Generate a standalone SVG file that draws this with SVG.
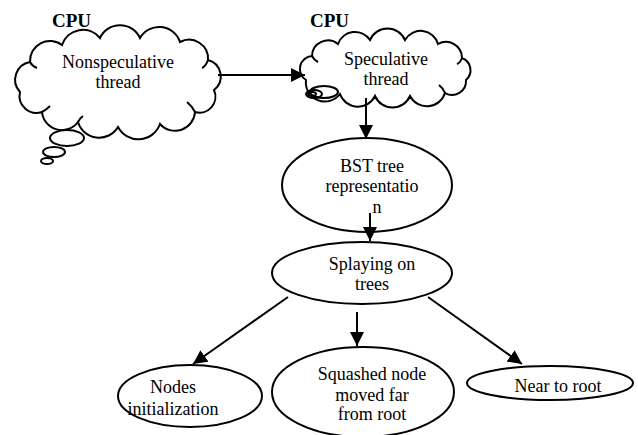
<svg xmlns="http://www.w3.org/2000/svg" width="638" height="435" viewBox="0 0 638 435">
<style>
.sh{fill:#fff;stroke:#000;stroke-width:2}
.ln{fill:none;stroke:#000;stroke-width:2}
text{font-family:'Liberation Serif','Times New Roman',Times,serif;fill:#000}
.t{font-size:18px;text-anchor:middle}
.b{font-size:19px;font-weight:bold}
.c{fill:none;stroke:#000;stroke-width:2}
</style>
<defs>
<marker id="ah" viewBox="0 0 10 10" refX="10" refY="5" markerWidth="7" markerHeight="7" orient="auto" markerUnits="strokeWidth">
<path d="M0,0 L10,5 L0,10 Z" fill="#000"/>
</marker>
</defs>
<rect width="638" height="435" fill="#fff"/>
<g id="cloud1">
<text class="b" x="52" y="27" font-family="Liberation Serif, serif">CPU</text>
<path class="sh" d="M20,92 A18,18 0 0 1 30,62 A20,20 0 0 1 62,45 A22,22 0 0 1 100,38 A22,22 0 0 1 140,38 A22,22 0 0 1 180,42 A19,19 0 0 1 208,60 A17,17 0 0 1 214,90 A16,16 0 0 1 195,112 A20,20 0 0 1 160,124 A23,23 0 0 1 118,127 A22,22 0 0 1 78,122 A20,20 0 0 1 42,112 A17,17 0 0 1 20,92 Z"/>
<path class="c" d="M30,62 q2,4 7,6 M195,112 q-3,-6 -8,-10 M208,60 q-2,6 -6,8 M78,122 q2,-4 5,-6 M42,112 q4,-2 8,-6"/>
<ellipse class="sh" cx="67" cy="138" rx="17" ry="8"/>
<ellipse class="sh" cx="54" cy="152" rx="11" ry="5"/>
<ellipse class="sh" cx="47" cy="161" rx="6" ry="3"/>
<text class="t" x="118" y="68">Nonspeculative</text>
<text class="t" x="118" y="88">thread</text>
</g>
<g id="cloud2">
<text class="b" x="310" y="27">CPU</text>
<path class="sh" d="M306,80 A13,13 0 0 1 312,56 A16,16 0 0 1 338,44 A18,18 0 0 1 370,40 A19,19 0 0 1 405,40 A18,18 0 0 1 438,44 A16,16 0 0 1 462,58 A13,13 0 0 1 466,80 A14,14 0 0 1 445,93 A19,19 0 0 1 410,96 A19,19 0 0 1 375,96 A19,19 0 0 1 340,94 A19,19 0 0 1 306,80 Z"/>
<path class="c" d="M312,56 q2,4 6,6 M445,93 q-2,-5 -6,-8 M462,58 q-2,5 -5,6"/>
<ellipse class="sh" cx="324" cy="92" rx="14" ry="6"/>
<ellipse class="c" cx="314" cy="94" rx="8" ry="4"/>
<ellipse class="c" cx="312" cy="94" rx="4" ry="2"/>
<text class="t" x="386" y="65">Speculative</text>
<text class="t" x="386" y="85">thread</text>
</g>
<g id="bst">
<ellipse class="sh" cx="367" cy="185" rx="85" ry="47"/>
<text class="t" x="372" y="172">BST tree</text>
<text class="t" x="372" y="192">representatio</text>
<text class="t" x="377" y="213">n</text>
</g>
<g id="splay">
<ellipse class="sh" cx="362" cy="273" rx="90" ry="31"/>
<text class="t" x="372" y="270">Splaying on</text>
<text class="t" x="372" y="290">trees</text>
</g>
<g id="nodes">
<ellipse class="sh" cx="190" cy="396" rx="72" ry="31"/>
<text class="t" x="173" y="393">Nodes</text>
<text class="t" x="173" y="415">initialization</text>
</g>
<g id="squashed">
<ellipse class="sh" cx="363" cy="392" rx="91" ry="45"/>
<text class="t" x="372" y="380">Squashed node</text>
<text class="t" x="372" y="401">moved far</text>
<text class="t" x="372" y="420">from root</text>
</g>
<g id="near">
<ellipse class="sh" cx="550" cy="383" rx="83" ry="17"/>
<text class="t" x="558" y="392">Near to root</text>
</g>
<g id="connectors">
<line class="ln" x1="218" y1="75" x2="305" y2="75" marker-end="url(#ah)"/>
<line class="ln" x1="366" y1="98" x2="366" y2="139" marker-end="url(#ah)"/>
<line class="ln" x1="370" y1="213" x2="370" y2="241" marker-end="url(#ah)"/>
<line class="ln" x1="288" y1="297" x2="193" y2="364" marker-end="url(#ah)"/>
<line class="ln" x1="357" y1="312" x2="357" y2="346" marker-end="url(#ah)"/>
<line class="ln" x1="428" y1="297" x2="522" y2="364" marker-end="url(#ah)"/>
</g>
</svg>
